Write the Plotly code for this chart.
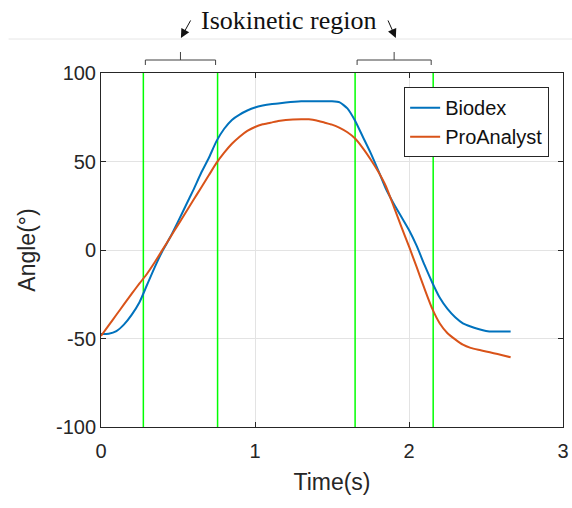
import plotly.graph_objects as go

# Knee angle during an isokinetic trial: dynamometer vs. video analysis
time_biodex = [0.00, 0.05, 0.10, 0.15, 0.20, 0.25, 0.30, 0.35, 0.40, 0.45,
               0.50, 0.55, 0.60, 0.65, 0.70, 0.75, 0.80, 0.85, 0.90, 0.95,
               1.00, 1.05, 1.10, 1.15, 1.20, 1.30, 1.40, 1.50, 1.55, 1.60,
               1.65, 1.70, 1.75, 1.80, 1.85, 1.90, 1.95, 2.00, 2.05, 2.10,
               2.15, 2.20, 2.25, 2.30, 2.35, 2.40, 2.45, 2.50, 2.55, 2.60, 2.66]
angle_biodex = [-47.5, -47.3, -45.8, -42.0, -36.5, -29.5, -19.5, -9.5, -0.4, 7.3,
                16.0, 25.0, 34.0, 43.5, 52.0, 61.5, 68.5, 73.5, 76.5, 78.8,
                80.5, 81.6, 82.4, 82.8, 83.3, 84.0, 84.1, 84.0, 83.4, 80.0,
                73.0, 64.0, 55.0, 45.0, 34.5, 26.3, 18.8, 11.3, 2.3, -8.3,
                -18.2, -27.0, -33.3, -38.0, -41.4, -43.2, -44.6, -45.7, -46.1, -46.1, -46.1]

time_pro = [0.00, 0.05, 0.10, 0.15, 0.20, 0.25, 0.30, 0.35, 0.40, 0.45,
            0.50, 0.55, 0.60, 0.65, 0.70, 0.75, 0.80, 0.85, 0.90, 0.95,
            1.00, 1.05, 1.10, 1.15, 1.20, 1.30, 1.35, 1.40, 1.45, 1.50,
            1.55, 1.60, 1.65, 1.70, 1.75, 1.80, 1.85, 1.90, 1.95, 2.00,
            2.05, 2.10, 2.15, 2.20, 2.25, 2.30, 2.35, 2.40, 2.45, 2.50,
            2.55, 2.60, 2.66]
angle_pro = [-48.6, -42.6, -36.6, -30.6, -24.6, -18.9, -13.3, -6.8, 0.2, 7.2,
             14.2, 21.2, 28.2, 35.2, 42.2, 49.2, 55.0, 60.0, 64.0, 67.3,
             69.5, 71.0, 71.9, 72.9, 73.5, 73.9, 73.8, 73.2, 72.0, 70.8,
             69.0, 66.5, 63.0, 57.6, 51.3, 44.3, 36.0, 24.8, 13.2, 2.0,
             -9.7, -21.7, -33.0, -41.5, -47.0, -50.5, -53.5, -55.3, -56.4, -57.3,
             -58.3, -59.3, -60.6]

# Start/end of the two isokinetic regions (s)
region_bounds = [(0.275, 0.757), (1.65, 2.157)]

x_ticks = [0, 1, 2, 3]
y_ticks = [-100, -50, 0, 50, 100]
y_tick_text = ["-100", "-50", "0", "50", "100"]

AX = "#262626"
BLUE = "#0072BD"
ORANGE = "#D95319"
GREEN = "#00FF00"
SANS = "Liberation Sans, Arial, Helvetica"

fig = go.Figure()

for a, b in region_bounds:
    for xv in (a, b):
        fig.add_trace(go.Scatter(x=[xv, xv], y=[-100, 100], mode="lines",
                                 line=dict(color=GREEN, width=1.5),
                                 showlegend=False, hoverinfo="skip"))

fig.add_trace(go.Scatter(x=time_biodex, y=angle_biodex, mode="lines",
                         name="Biodex",
                         line=dict(color=BLUE, width=2, shape="spline", smoothing=0.5)))
fig.add_trace(go.Scatter(x=time_pro, y=angle_pro, mode="lines",
                         name="ProAnalyst",
                         line=dict(color=ORANGE, width=2, shape="spline", smoothing=0.5)))

axis_common = dict(
    showline=True, linecolor=AX, linewidth=1, mirror="allticks",
    ticks="inside", ticklen=5, tickcolor=AX, tickwidth=1,
    showgrid=True, gridcolor="#E3E3E3", gridwidth=1,
    zeroline=False, automargin=False,
    tickfont=dict(family=SANS, size=20, color=AX),
)

fig.update_xaxes(range=[0, 3], tickvals=x_ticks, ticklabelstandoff=6, **axis_common,
                 title=dict(text="Time(s)", standoff=12,
                            font=dict(family=SANS, size=23, color=AX)))
fig.update_yaxes(range=[-100, 100], tickvals=y_ticks, ticktext=y_tick_text,
                 **axis_common,
                 title=dict(text="Angle(°)", standoff=13,
                            font=dict(family=SANS, size=23, color=AX)))

# Brackets over each region
shapes = []
for a, b in region_bounds:
    lo, hi = a + 0.013, b - 0.013
    mid = (a + b) / 2
    shapes.append(dict(type="path", xref="x", yref="paper",
                       path=f"M {lo},1.0226 L {lo},1.0367 L {hi},1.0367 L {hi},1.0226",
                       line=dict(color="#404040", width=1)))
    shapes.append(dict(type="line", xref="x", yref="paper",
                       x0=mid, x1=mid, y0=1.0367, y1=1.0593,
                       line=dict(color="#404040", width=1)))
# thin separator line above the axes
shapes.append(dict(type="line", xref="paper", yref="paper",
                   x0=-0.2, x1=1.03, y0=1.096, y1=1.096,
                   line=dict(color="#E6E6E6", width=1)))

annotations = [
    dict(text="Isokinetic region", xref="paper", yref="paper",
         x=0.405, y=1.147, showarrow=False, xanchor="center", yanchor="middle",
         font=dict(family="Liberation Serif, Times New Roman", size=26, color="#111111")),
]
arrow_dx = [10.5, -8.5]
arrow_shift = [0.003, 0.011]
for (a, b), dx, sh in zip(region_bounds, arrow_dx, arrow_shift):
    mid = (a + b) / 2 + sh
    annotations.append(dict(text="", xref="x", yref="paper", x=mid, y=1.099,
                            showarrow=True, arrowhead=2, arrowsize=1.8, arrowwidth=1,
                            arrowcolor="#111111", ax=dx, ay=-19))

fig.update_layout(
    width=572, height=508,
    margin=dict(l=101, r=9, t=73, b=81),
    paper_bgcolor="white", plot_bgcolor="white",
    shapes=shapes, annotations=annotations,
    legend=dict(x=0.97, y=0.96, xanchor="right", yanchor="top",
                bgcolor="white", bordercolor=AX, borderwidth=1,
                font=dict(family=SANS, size=20, color="#111111")),
)

fig.write_html("out.html")
